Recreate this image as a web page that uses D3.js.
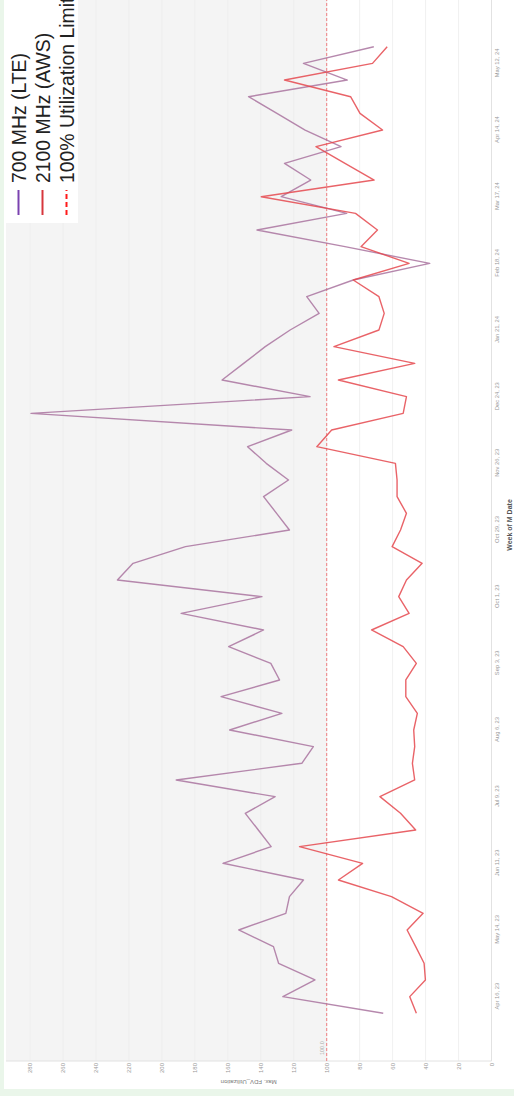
<!DOCTYPE html>
<html>
<head>
<meta charset="utf-8">
<script src="https://cdn.jsdelivr.net/npm/d3@7"></script>
<style>
  html, body { margin: 0; padding: 0; background: #eaf6ea; overflow: hidden; }
  svg { display: block; }
</style>
</head>
<body>
<div id="chart"></div>
<script>
// Weekly max utilization, drawn landscape then turned a quarter turn
const weeks = [
  "2023-04-09", "2023-04-16", "2023-04-23", "2023-04-30", "2023-05-07", "2023-05-14",
  "2023-05-21", "2023-05-28", "2023-06-04", "2023-06-11", "2023-06-18", "2023-06-25",
  "2023-07-02", "2023-07-09", "2023-07-16", "2023-07-23", "2023-07-30", "2023-08-06",
  "2023-08-13", "2023-08-20", "2023-08-27", "2023-09-03", "2023-09-10", "2023-09-17",
  "2023-09-24", "2023-10-01", "2023-10-08", "2023-10-15", "2023-10-22", "2023-10-29",
  "2023-11-05", "2023-11-12", "2023-11-19", "2023-11-26", "2023-12-03", "2023-12-10",
  "2023-12-17", "2023-12-24", "2023-12-31", "2024-01-07", "2024-01-14", "2024-01-21",
  "2024-01-28", "2024-02-04", "2024-02-11", "2024-02-18", "2024-02-25", "2024-03-03",
  "2024-03-10", "2024-03-17", "2024-03-24", "2024-03-31", "2024-04-07", "2024-04-14",
  "2024-04-21", "2024-04-28", "2024-05-05", "2024-05-12", "2024-05-19"
];

const lte700 = [
  65.7, 126.6, 107.1, 129.2, 132.3, 153.4, 124.8, 122.6, 114.1, 162.9,
  133.7, 141.5, 149.4, 131.3, 191.3, 115.1, 108.1, 158.9, 127.2, 164.1,
  128.6, 133.9, 159.5, 138.3, 188.3, 139.3, 227.0, 217.5, 185.7, 122.6,
  130.4, 138.3, 123.2, 136.7, 148.0, 121.2, 279.4, 110.1, 163.5, 150.4,
  137.3, 122.2, 104.6, 112.1, 83.9, 37.5, 88.9, 142.3, 87.9, 127.6,
  109.7, 125.6, 91.3, 113.1, 130.2, 147.4, 87.5, 114.1, 71.4
];

const aws2100 = [
  45.6, 49.6, 40.1, 40.9, 46.0, 51.2, 41.5, 60.7, 92.9, 78.2,
  116.5, 46.0, 55.2, 67.7, 46.6, 48.0, 46.6, 47.2, 45.0, 52.0,
  52.0, 45.6, 53.6, 72.8, 50.0, 56.3, 51.6, 42.1, 60.3, 55.2,
  51.6, 57.3, 57.3, 58.3, 106.0, 97.0, 53.6, 51.6, 92.9, 46.6,
  95.6, 68.3, 65.1, 68.3, 83.9, 50.0, 79.2, 69.2, 82.5, 139.7,
  71.2, 88.9, 106.5, 66.1, 79.8, 85.5, 125.6, 72.2, 63.3
];

const tickWeeks = [
  "2023-04-16", "2023-05-14", "2023-06-11", "2023-07-09", "2023-08-06",
  "2023-09-03", "2023-10-01", "2023-10-29", "2023-11-26", "2023-12-24",
  "2024-01-21", "2024-02-18", "2024-03-17", "2024-04-14", "2024-05-12"
];
const tickLabels = [
  "Apr 16, 23", "May 14, 23", "Jun 11, 23", "Jul 9, 23", "Aug 6, 23",
  "Sep 3, 23", "Oct 1, 23", "Oct 29, 23", "Nov 26, 23", "Dec 24, 23",
  "Jan 21, 24", "Feb 18, 24", "Mar 17, 24", "Apr 14, 24", "May 12, 24"
];
const valueTicks = [0, 20, 40, 60, 80, 100, 120, 140, 160, 180, 200, 220, 240, 260, 280];
const limitValue = 100;
const legendNames = ["700 MHz (LTE)", "2100 MHz (AWS)", "100% Utilization Limit"];

const parse = d3.timeParse("%Y-%m-%d");
const W = 1096, H = 514; // unrotated size
const font = "'Liberation Sans', Arial, sans-serif";

const svg = d3.select("#chart").append("svg")
  .attr("width", H)
  .attr("height", W);

const g = svg.append("g")
  .attr("transform", `translate(0,${W}) rotate(-90)`);

const plot = { left: 35, right: W, top: 6, bottom: 491.5 };

const x = d3.scaleTime()
  .domain([parse(weeks[0]), parse(weeks[weeks.length - 1])])
  .range([82.7, 1049.3]);
const y = d3.scaleLinear()
  .domain([0, 294.6])
  .range([plot.bottom, plot.top]);

// white panel
g.append("rect")
  .attr("x", 7).attr("y", 4)
  .attr("width", W - 7).attr("height", H - 4)
  .attr("fill", "#fff");

// shaded band above the limit
g.append("rect")
  .attr("x", plot.left).attr("y", plot.top)
  .attr("width", plot.right - plot.left)
  .attr("height", y(limitValue) - plot.top)
  .attr("fill", "#f4f4f4");

// grid
g.append("g")
  .selectAll("line")
  .data(valueTicks.filter((d) => d > 0))
  .enter()
  .append("line")
  .attr("x1", plot.left).attr("x2", plot.right)
  .attr("y1", (d) => y(d)).attr("y2", (d) => y(d))
  .attr("stroke", "#ececec")
  .attr("stroke-width", 0.8);

// axis rules
g.append("line")
  .attr("x1", plot.left).attr("x2", plot.right)
  .attr("y1", plot.bottom).attr("y2", plot.bottom)
  .attr("stroke", "#e2e2e2");
g.append("line")
  .attr("x1", plot.left).attr("x2", plot.left)
  .attr("y1", plot.top).attr("y2", plot.bottom)
  .attr("stroke", "#e2e2e2");

// value axis
const yAxis = g.append("g")
  .attr("transform", `translate(${plot.left - 2},0)`)
  .call(d3.axisLeft(y).tickValues(valueTicks).tickSize(0).tickPadding(0));
yAxis.select(".domain").remove();
yAxis.selectAll("text")
  .attr("font-family", font)
  .attr("font-size", 6)
  .attr("fill", "#999");

g.append("text")
  .attr("transform", `translate(16,${(plot.top + plot.bottom) / 2}) rotate(-90)`)
  .attr("text-anchor", "middle")
  .attr("font-family", font)
  .attr("font-size", 6)
  .attr("fill", "#777")
  .text("Max. FDV_Utilization");

// date axis
const xAxis = g.append("g")
  .attr("transform", `translate(0,${plot.bottom + 2})`)
  .call(
    d3.axisBottom(x)
      .tickValues(tickWeeks.map(parse))
      .tickFormat((d, i) => tickLabels[i])
      .tickSize(0)
      .tickPadding(1)
  );
xAxis.select(".domain").remove();
xAxis.selectAll("text")
  .attr("font-family", font)
  .attr("font-size", 5.8)
  .attr("fill", "#999");

g.append("text")
  .attr("x", 571).attr("y", 512)
  .attr("text-anchor", "middle")
  .attr("font-family", font)
  .attr("font-size", 7)
  .attr("font-weight", "bold")
  .attr("fill", "#555")
  .text("Week of M Date");

// limit line
g.append("line")
  .attr("x1", plot.left).attr("x2", plot.right)
  .attr("y1", y(limitValue)).attr("y2", y(limitValue))
  .attr("stroke", "#ef7f82")
  .attr("stroke-width", 1)
  .attr("stroke-dasharray", "3,2");
g.append("text")
  .attr("x", 41).attr("y", y(limitValue) - 2.5)
  .attr("font-family", font)
  .attr("font-size", 5.5)
  .attr("fill", "#aaa")
  .text(limitValue.toFixed(1));

// series
const line = d3.line()
  .x((d) => x(d.date))
  .y((d) => y(d.value));

const series = [
  { values: lte700, color: "#a9739f" },
  { values: aws2100, color: "#e5484d" },
];
series.forEach((s) => {
  const pts = weeks.map((w, i) => ({ date: parse(w), value: s.values[i] }));
  g.append("path")
    .datum(pts)
    .attr("fill", "none")
    .attr("stroke", s.color)
    .attr("stroke-opacity", 0.85)
    .attr("stroke-width", 1.4)
    .attr("stroke-linejoin", "round")
    .attr("d", line);
});

// legend
const legend = g.append("g");
legend.append("rect")
  .attr("x", 873).attr("y", 4)
  .attr("width", W - 873).attr("height", 74)
  .attr("fill", "#fff");

const legendColors = ["#7a42b0", "#d6363c", "#ff1a1a"];
legendNames.forEach((name, i) => {
  const cy = 18.5 + i * 24;
  legend.append("line")
    .attr("x1", 881).attr("x2", 906)
    .attr("y1", cy).attr("y2", cy)
    .attr("stroke", legendColors[i])
    .attr("stroke-width", 2)
    .attr("stroke-dasharray", i === 2 ? "5,3" : null);
  legend.append("text")
    .attr("x", 913).attr("y", cy + 7.5)
    .attr("font-family", font)
    .attr("font-size", 19.4)
    .attr("fill", "#222")
    .text(name);
});
</script>
</body>
</html>
